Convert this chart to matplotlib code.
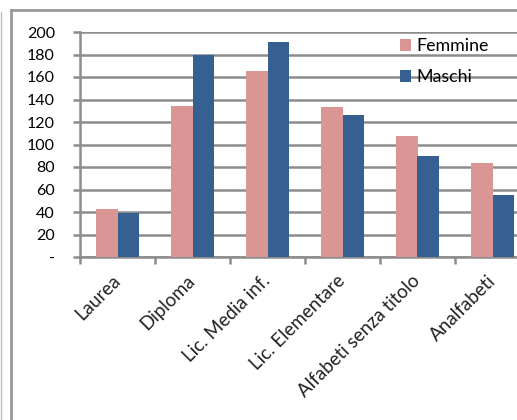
import numpy as np
import matplotlib.pyplot as plt
from matplotlib.lines import Line2D

# Dati
categorie = ['Laurea', 'Diploma', 'Lic. Media inf.', 'Lic. Elementare',
             'Alfabeti senza titolo', 'Analfabeti']
femmine = [43, 134, 165, 133, 108, 84]
maschi = [39, 180, 191, 126, 90, 55]
yticks = [0, 20, 40, 60, 80, 100, 120, 140, 160, 180, 200]
ylabels = ['-'] + [str(v) for v in yticks[1:]]

col_f = '#D99694'
col_m = '#366092'
grigio = '#8C8C8C'

plt.rcParams['font.family'] = ['Lato', 'DejaVu Sans']
plt.rcParams['font.size'] = 11.5

W, H = 517, 420
fig = plt.figure(figsize=(W/100, H/100), dpi=100)
fig.patch.set_facecolor('white')

# assi: sinistra x=80, fondo y=257, cima y=32, 75 px per categoria
ax = fig.add_axes([80/W, (H-257)/H, 6*75/W, 225/H])

x = np.arange(len(categorie))
w = 0.293
ax.bar(x - w/2, femmine, w, color=col_f, label='Femmine', zorder=3)
ax.bar(x + w/2, maschi, w, color=col_m, label='Maschi', zorder=3)

ax.set_xlim(-0.5, len(categorie) - 0.5)
ax.set_ylim(0, 200)
ax.set_yticks(yticks)
ax.set_yticklabels(ylabels)
ax.yaxis.grid(True, color=grigio, linewidth=1.8, zorder=0)
ax.set_axisbelow(True)

ax.set_xticks(x)
ax.set_xticklabels(categorie, rotation=45, ha='right', va='center',
                   rotation_mode='anchor', fontsize=13.5, color='#222222')
ax.tick_params(axis='x', which='major', length=0, pad=15)
ax.set_xticks(np.arange(len(categorie) + 1) - 0.5, minor=True)
ax.tick_params(axis='x', which='minor', length=5, width=1.8, color=grigio)
ax.tick_params(axis='y', length=5, width=1.8, color=grigio, pad=13)

for s in ['top', 'right']:
    ax.spines[s].set_visible(False)
for s in ['left', 'bottom']:
    ax.spines[s].set_color(grigio)
    ax.spines[s].set_linewidth(1.8)

leg = ax.legend(loc='upper left', bbox_to_anchor=(400/W, 1 - 38/H),
                bbox_transform=fig.transFigure, frameon=False, borderpad=0,
                borderaxespad=0, handlelength=0.62, handleheight=0.62,
                handletextpad=0.3, labelspacing=0.85, fontsize=12.8)

# cornice del grafico
fig.add_artist(Line2D([11/W, 11/W], [0, 1 - 10/H], color='#999999', lw=2,
                      transform=fig.transFigure))
fig.add_artist(Line2D([11/W, 1], [1 - 10/H, 1 - 10/H], color='#999999', lw=2,
                      transform=fig.transFigure))
fig.add_artist(Line2D([1/W, 1/W], [0, 1 - 12/H], color='#BBBBBB', lw=1,
                      transform=fig.transFigure))

fig.savefig('out.png', dpi=100)
